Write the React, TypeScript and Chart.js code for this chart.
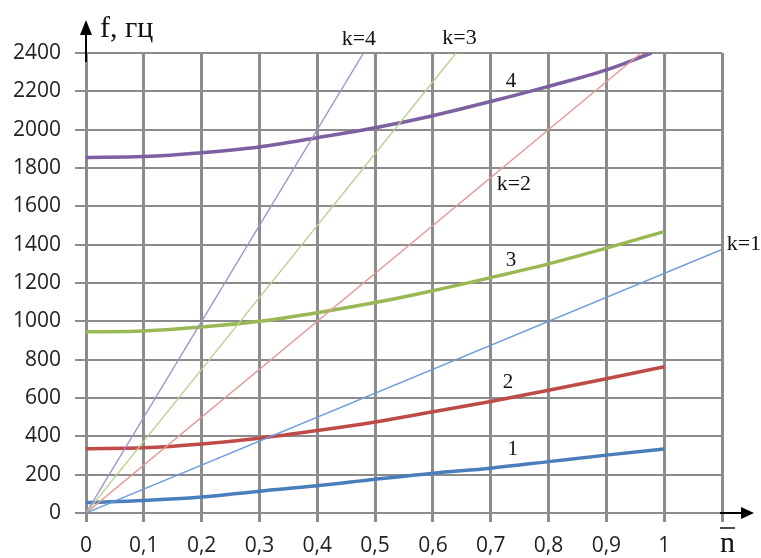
import React, { useEffect, useRef } from "react";
import { Chart, registerables } from "chart.js";

Chart.register(...registerables);

// ---- data ----
const nValues = [0, 0.1, 0.2, 0.3, 0.4, 0.5, 0.6, 0.7, 0.8, 0.9, 1.0];
const curve1 = [55, 65, 83, 114, 142, 176, 208, 234, 268, 302, 334];
const curve2 = [335, 340, 360, 390, 430, 475, 528, 582, 640, 700, 763];
const curve3 = [945, 950, 970, 1000, 1045, 1098, 1160, 1228, 1300, 1382, 1468];
const curve4N = [0, 0.1, 0.2, 0.3, 0.4, 0.5, 0.6, 0.7, 0.8, 0.9, 0.978];
const curve4 = [1855, 1860, 1880, 1910, 1958, 2010, 2073, 2147, 2226, 2312, 2400];

const k1N = [0, 1.1];
const k1F = [0, 1375];
const k2N = [0, 0.96];
const k2F = [0, 2400];
const k3N = [0, 0.64];
const k3F = [0, 2400];
const k4N = [0, 0.48];
const k4F = [0, 2400];

const xTickLabels = ["0", "0,1", "0,2", "0,3", "0,4", "0,5", "0,6", "0,7", "0,8", "0,9", "1", ""];
const yTickLabels = ["0", "200", "400", "600", "800", "1000", "1200", "1400", "1600", "1800", "2000", "2200", "2400"];

const curveLabels = ["1", "2", "3", "4"];
const curveLabelN = [0.738, 0.73, 0.735, 0.735];
const curveLabelF = [329, 683, 1316, 2252];

const kLabels = ["k=2", "k=3", "k=4"];
const kLabelN = [0.74, 0.646, 0.472];
const kLabelF = [1716, 2478, 2474];
const k1LabelN = 1.108;
const k1LabelF = 1404;

const pts = (xs: number[], ys: number[]) => xs.map((x, i) => ({ x, y: ys[i] }));

const overlayPlugin = {
  id: "overlay",
  afterDraw(chart: any) {
    const ctx = chart.ctx;
    const xs = chart.scales.x;
    const ys = chart.scales.y;
    const area = chart.chartArea;
    ctx.save();
    // x axis arrow
    ctx.strokeStyle = "#000";
    ctx.fillStyle = "#000";
    ctx.lineWidth = 2;
    ctx.beginPath();
    ctx.moveTo(area.right - 2, area.bottom);
    ctx.lineTo(area.right + 24, area.bottom);
    ctx.stroke();
    ctx.beginPath();
    ctx.moveTo(area.right + 32, area.bottom);
    ctx.lineTo(area.right + 19, area.bottom - 6);
    ctx.lineTo(area.right + 19, area.bottom + 6);
    ctx.closePath();
    ctx.fill();
    // y axis arrow
    ctx.beginPath();
    ctx.moveTo(area.left, area.top + 9);
    ctx.lineTo(area.left, area.top - 22);
    ctx.stroke();
    ctx.beginPath();
    ctx.moveTo(area.left, area.top - 33);
    ctx.lineTo(area.left - 6, area.top - 18);
    ctx.lineTo(area.left + 6, area.top - 18);
    ctx.closePath();
    ctx.fill();

    // axis titles
    ctx.fillStyle = "#111";
    ctx.textAlign = "left";
    ctx.textBaseline = "alphabetic";
    ctx.font = "30px 'Liberation Serif'";
    ctx.fillText("f, гц", area.left + 14, area.top - 16);
    ctx.font = "30px 'Liberation Serif'";
    const nx = area.right - 2;
    const ny = area.bottom + 39;
    ctx.fillText("n", nx, ny);
    const w = ctx.measureText("n").width;
    ctx.lineWidth = 1.5;
    ctx.strokeStyle = "#111";
    ctx.beginPath();
    ctx.moveTo(nx, area.bottom + 15);
    ctx.lineTo(nx + w, area.bottom + 15);
    ctx.stroke();

    // curve labels
    ctx.textAlign = "center";
    ctx.textBaseline = "middle";
    ctx.font = "21px 'Liberation Serif'";
    curveLabels.forEach((t, i) => {
      ctx.fillText(t, xs.getPixelForValue(curveLabelN[i]), ys.getPixelForValue(curveLabelF[i]));
    });
    ctx.font = "22px 'Liberation Serif'";
    kLabels.forEach((t, i) => {
      ctx.fillText(t, xs.getPixelForValue(kLabelN[i]), ys.getPixelForValue(kLabelF[i]));
    });
    ctx.textAlign = "left";
    ctx.fillText("k=1", xs.getPixelForValue(k1LabelN), ys.getPixelForValue(k1LabelF));
    ctx.restore();
  },
};

export default function App() {
  const ref = useRef<HTMLCanvasElement>(null);
  useEffect(() => {
    if (!ref.current) return;
    const thick = (data: any, color: string) => ({
      data,
      borderColor: color,
      borderWidth: 3.5,
      pointRadius: 0,
      fill: false,
      tension: 0.4,
      cubicInterpolationMode: "monotone" as const,
    });
    const thin = (data: any, color: string) => ({
      data,
      borderColor: color,
      borderWidth: 1.4,
      pointRadius: 0,
      fill: false,
      tension: 0,
    });
    const chart = new Chart(ref.current, {
      type: "line",
      data: {
        datasets: [
          thin(pts(k1N, k1F), "#6b9bdb"),
          thin(pts(k2N, k2F), "#e49a96"),
          thin(pts(k3N, k3F), "#b6d38c"),
          thin(pts(k4N, k4F), "#a48fcb"),
          thick(pts(nValues, curve1), "#4a7ebb"),
          thick(pts(nValues, curve2), "#be4b48"),
          thick(pts(nValues, curve3), "#98b954"),
          thick(pts(curve4N, curve4), "#7d60a0"),
        ] as any,
      },
      options: {
        animation: false,
        responsive: false,
        layout: { padding: { top: 53, right: 39, left: 0, bottom: 0 } },
        plugins: { legend: { display: false }, tooltip: { enabled: false } },
        scales: {
          x: {
            type: "linear",
            min: 0,
            max: 1.1,
            afterFit(scale: any) {
              scale.height = 45;
            },
            ticks: {
              stepSize: 0.1,
              autoSkip: false,
              maxRotation: 0,
              padding: 11,
              color: "#222",
              font: { family: "'Open Sans'", size: 21 },
              callback: (_v: any, i: number) => xTickLabels[i] ?? "",
            },
            grid: { color: "#8c8c8c", lineWidth: 3, tickLength: 9 },
            border: { color: "#8c8c8c", width: 2 },
          },
          y: {
            type: "linear",
            min: 0,
            max: 2400,
            afterFit(scale: any) {
              scale.width = 86;
            },
            ticks: {
              stepSize: 200,
              autoSkip: false,
              padding: 14,
              color: "#222",
              font: { family: "'Open Sans'", size: 21 },
              callback: (_v: any, i: number) => yTickLabels[i] ?? "",
            },
            grid: { color: "#8c8c8c", lineWidth: 2, tickLength: 11 },
            border: { color: "#8c8c8c", width: 3 },
          },
        },
      },
      plugins: [overlayPlugin],
    });
    return () => chart.destroy();
  }, []);
  return (
    <div style={{ position: "fixed", left: 0, top: 0, width: 761, height: 558, background: "#fff" }}>
      <canvas ref={ref} width={761} height={558} />
    </div>
  );
}
